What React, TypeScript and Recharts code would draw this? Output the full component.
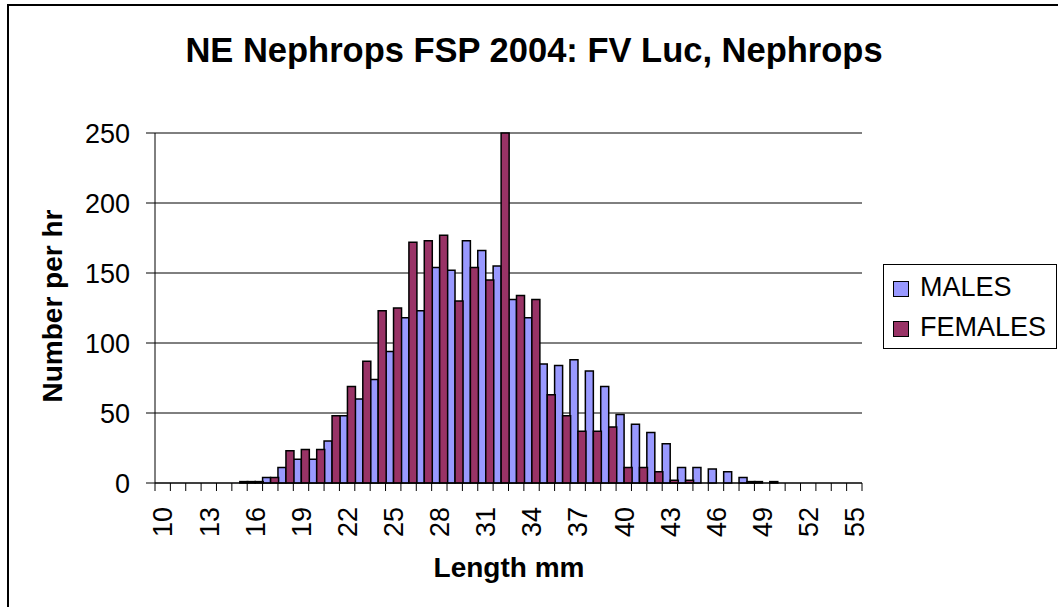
import { BarChart, Bar, XAxis, YAxis, CartesianGrid, Label } from "recharts";

// length classes in mm
const lengths = [
  "10", "11", "12", "13", "14", "15", "16", "17", "18", "19",
  "20", "21", "22", "23", "24", "25", "26", "27", "28", "29",
  "30", "31", "32", "33", "34", "35", "36", "37", "38", "39",
  "40", "41", "42", "43", "44", "45", "46", "47", "48", "49",
  "50", "51", "52", "53", "54", "55",
];

const males = [
  0, 0, 0, 0, 0, 0, 1, 4, 11, 17,
  17, 30, 48, 60, 74, 94, 118, 123, 154, 152,
  173, 166, 155, 131, 118, 85, 84, 88, 80, 69,
  49, 42, 36, 28, 11, 11, 10, 8, 4, 1,
  1, 0, 0, 0, 0, 0,
];

const females = [
  0, 0, 0, 0, 0, 1, 1, 4, 23, 24,
  24, 48, 69, 87, 123, 125, 172, 173, 177, 130,
  154, 145, 250, 134, 131, 63, 48, 37, 37, 40,
  11, 11, 8, 2, 2, 0, 0, 0, 1, 0,
  0, 0, 0, 0, 0, 0,
];

const yTicks = [0, 50, 100, 150, 200, 250];

const series = [
  { key: "males", name: "MALES", color: "#9999FF" },
  { key: "females", name: "FEMALES", color: "#993366" },
];

const data = lengths.map((len, i) => ({ len, males: males[i], females: females[i] }));

const W = 1058;
const H = 607;
const margin = { top: 133, right: 196, bottom: 0, left: 0 };
const Y_AXIS_W = 155;
const X_AXIS_H = 124;
const step = (W - margin.left - margin.right - Y_AXIS_W) / lengths.length;
const font = "'Liberation Sans', Arial, sans-serif";

// tick marks sit between categories, labels on every third class
const LengthTick = (props: any) => {
  const { x, y, payload, index } = props;
  const i = typeof index === "number" ? index : payload.index;
  return (
    <g>
      <line x1={x - step / 2} x2={x - step / 2} y1={y} y2={y + 8} stroke="#000" />
      {i === lengths.length - 1 && (
        <line x1={x + step / 2} x2={x + step / 2} y1={y} y2={y + 8} stroke="#000" />
      )}
      {i % 3 === 0 && (
        <text
          transform={`translate(${x},${y + 24}) rotate(-90)`}
          textAnchor="end"
          dy="0.36em"
          fontSize={27}
          fontFamily={font}
          fill="#000"
        >
          {payload.value}
        </text>
      )}
    </g>
  );
};

export default function App() {
  return (
    <div
      style={{
        position: "absolute",
        left: 0,
        top: 0,
        width: W,
        height: H,
        overflow: "hidden",
        background: "#fff",
        fontFamily: font,
      }}
    >
      {/* chart area frame, only left and top edges are in view */}
      <div
        style={{
          position: "absolute",
          left: 7,
          top: 4,
          width: 2000,
          height: 2000,
          borderLeft: "2px solid #000",
          borderTop: "2px solid #000",
        }}
      />

      <div
        style={{
          position: "absolute",
          left: 0,
          width: 1068,
          top: 33,
          textAlign: "center",
          fontSize: 34.5,
          lineHeight: "34.5px",
          fontWeight: "bold",
          color: "#000",
        }}
      >
        NE Nephrops FSP 2004: FV Luc, Nephrops
      </div>

      <div style={{ position: "absolute", left: 0, top: 0 }}>
        <BarChart
          width={W}
          height={H}
          data={data}
          margin={margin}
          barCategoryGap={0}
          barGap={0}
        >
          <CartesianGrid vertical={false} stroke="#000" />
          <XAxis
            dataKey="len"
            interval={0}
            height={X_AXIS_H}
            tickLine={false}
            tickSize={0}
            tickMargin={0}
            axisLine={{ stroke: "#000" }}
            tick={LengthTick}
          >
            <Label
              content={() => (
                <text
                  x={509}
                  y={577}
                  textAnchor="middle"
                  fontSize={28}
                  fontWeight="bold"
                  fontFamily={font}
                  fill="#000"
                >
                  Length mm
                </text>
              )}
            />
          </XAxis>
          <YAxis
            width={Y_AXIS_W}
            domain={[0, 250]}
            ticks={yTicks}
            interval={0}
            tickSize={9}
            tickMargin={16}
            axisLine={{ stroke: "#000" }}
            tickLine={{ stroke: "#000" }}
            tick={{ fontSize: 27, fill: "#000", fontFamily: font }}
          >
            <Label
              content={() => (
                <text
                  transform="translate(62,306) rotate(-90)"
                  textAnchor="middle"
                  fontSize={28}
                  fontWeight="bold"
                  fontFamily={font}
                  fill="#000"
                >
                  Number per hr
                </text>
              )}
            />
          </YAxis>
          {series.map((s) => (
            <Bar
              key={s.key}
              dataKey={s.key}
              name={s.name}
              fill={s.color}
              stroke="#000"
              strokeWidth={1.5}
              isAnimationActive={false}
            />
          ))}
        </BarChart>
      </div>

      {/* legend */}
      <div
        style={{
          position: "absolute",
          left: 883,
          top: 264,
          width: 172,
          height: 83,
          border: "1px solid #000",
          background: "#fff",
        }}
      >
        {series.map((s, i) => (
          <div
            key={s.key}
            style={{
              position: "absolute",
              left: 9,
              top: 9 + i * 40,
              height: 27,
              lineHeight: "27px",
              fontSize: 27,
              color: "#000",
              whiteSpace: "nowrap",
            }}
          >
            <span
              style={{
                position: "absolute",
                left: 0,
                top: 7,
                width: 16,
                height: 16,
                boxSizing: "border-box",
                border: "1.5px solid #000",
                background: s.color,
              }}
            />
            <span style={{ position: "absolute", left: 27 }}>{s.name}</span>
          </div>
        ))}
      </div>
    </div>
  );
}
